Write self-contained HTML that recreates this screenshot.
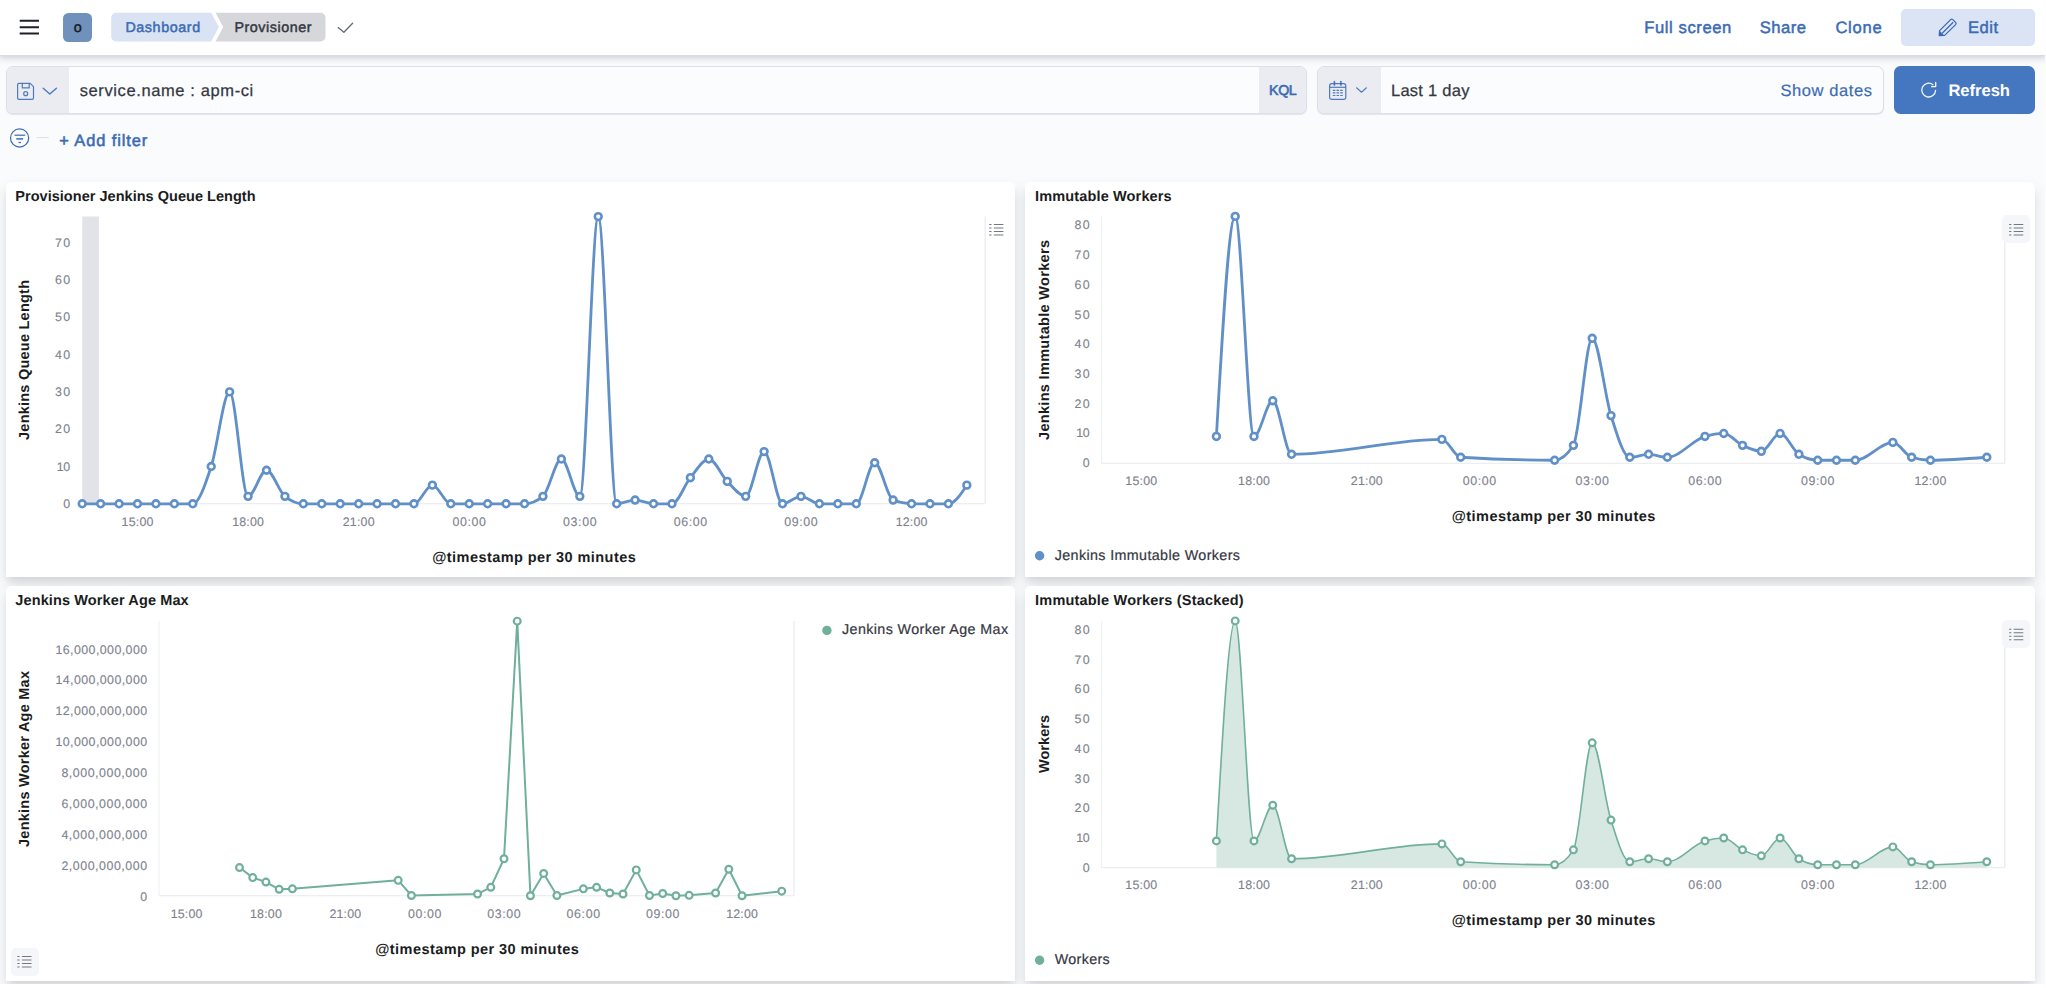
<!DOCTYPE html>
<html lang="en">
<head>
<meta charset="utf-8">
<title>Provisioner - Dashboard</title>
<style>
*{box-sizing:border-box;margin:0;padding:0}
html,body{width:2046px;height:988px;overflow:hidden}
body{position:relative;background:#fafbfd;font-family:"Liberation Sans", "DejaVu Sans", sans-serif;color:#343741;-webkit-font-smoothing:antialiased}
.abs,.t,.chart{position:absolute}
.t{white-space:nowrap;display:block;text-rendering:geometricPrecision}
svg{overflow:visible;display:block}
svg text{font-family:"Liberation Sans", "DejaVu Sans", sans-serif;text-rendering:geometricPrecision}
.tick text{stroke:#7c808c;stroke-width:.12px}
header{position:absolute;left:0;top:0;width:2046px;height:54.5px;background:#fff;box-shadow:0 1px 0 #d8dbe2,0 2px 7px 1px rgba(96,106,128,.30);z-index:5}
.avatar{left:63.2px;top:12.8px;width:28.6px;height:28.8px;border-radius:5.5px;background:#7091bb}
.crumb{top:12.8px;height:28.6px}
.edit{left:1901px;top:8.6px;width:134.4px;height:37.5px;border-radius:5px;background:#dbe4f4}
.bar{top:66px;height:47.6px;border:1px solid #dadfe9;border-radius:7px;background:#fbfcfd;box-shadow:0 1px 1px rgba(150,160,190,.25);overflow:hidden}
.seg{position:absolute;top:0;bottom:0;background:#eaecf2}
.refresh{left:1893.8px;top:65.8px;width:141.6px;height:48px;border-radius:6.5px;background:#4577c1}
.panel{position:absolute;background:#fff;border-radius:5.5px 5.5px 0 0;box-shadow:0 7px 14px -1.2px rgba(82,86,94,.215),0 4.7px 4.7px -1.2px rgba(82,86,94,.05)}
.lgbtn{width:28px;height:28px;border-radius:5px;background:#f4f6fa}
.dot{width:9.4px;height:9.4px;border-radius:50%;margin:.1px}
.edgeR{left:2044.7px;top:0;width:1.3px;height:988px;background:#fdfdfe;z-index:9}
.edgeB{left:0;top:983.7px;width:2046px;height:4.3px;background:#fff;z-index:8}
</style>
</head>
<body>

<header>
<svg class="abs" style="left:19px;top:19px" width="22" height="17" viewBox="0 0 22 17"><g stroke="#1f2128" stroke-width="2.1"><path d="M0.7,1.8H20M0.7,8.3H20M0.7,14.5H20"/></g></svg>
<div class="abs avatar"></div>
<span id="t1" class="t " style="left:73.8px;top:18.01px;font-size:14.4px;line-height:20px;font-weight:400;color:#1a1c21;-webkit-text-stroke:0.45px #1a1c21;">o</span>
<nav aria-label="breadcrumb">
<svg class="abs" style="left:111px;top:12px" width="216" height="31" viewBox="111 12 216 31"><path d="M116.2,12.8H211.2L218.8,27.1L211.2,41.4H116.2a5,5 0 0 1 -5,-5V17.8a5,5 0 0 1 5,-5Z" fill="#d9e3f3"/><path d="M215.6,12.8H320.5a5,5 0 0 1 5,5V36.4a5,5 0 0 1 -5,5H215.6L223.2,27.1Z" fill="#d6d7da"/></svg>
<span id="t2" class="t " style="left:125.4px;top:18.41px;font-size:14.3px;line-height:20px;font-weight:400;color:#3b6bb4;letter-spacing:0.6px;-webkit-text-stroke:0.5px #3b6bb4;">Dashboard</span>
<span id="t3" class="t " style="left:234.4px;top:18.41px;font-size:14.3px;line-height:20px;font-weight:400;color:#343741;letter-spacing:0.55px;-webkit-text-stroke:0.45px #343741;">Provisioner</span>
</nav>
<svg class="abs" style="left:336px;top:20px" width="19" height="15" viewBox="336 20 19 15"><path d="M338.2,27.6L343.9,32.2L352.6,23.2" fill="none" stroke="#646a77" stroke-width="1.3" stroke-linecap="round" stroke-linejoin="round"/></svg>
<span id="t4" class="t " style="left:1644.3px;top:15.91px;font-size:16.6px;line-height:23px;font-weight:400;color:#3b6bb4;letter-spacing:0.59px;-webkit-text-stroke:0.48px #3b6bb4;">Full screen</span>
<span id="t5" class="t " style="left:1759.8px;top:15.91px;font-size:16.6px;line-height:23px;font-weight:400;color:#3b6bb4;letter-spacing:0.46px;-webkit-text-stroke:0.48px #3b6bb4;">Share</span>
<span id="t6" class="t " style="left:1835.4px;top:15.91px;font-size:16.6px;line-height:23px;font-weight:400;color:#3b6bb4;letter-spacing:0.73px;-webkit-text-stroke:0.48px #3b6bb4;">Clone</span>
<div class="abs edit"></div>
<svg class="abs" style="left:1937px;top:17px" width="21" height="21" viewBox="1937 17 21 21"><g fill="none" stroke="#3b6bb4" stroke-width="1.25" stroke-linejoin="round"><path d="M1939.2,35.6L1939.6,30.6L1950.6,19.6a1.6,1.6 0 0 1 2.2,0L1955.6,22.4a1.6,1.6 0 0 1 0,2.2L1944.6,35.4Z"/><path d="M1942.2,33.2L1953.2,22.2"/></g><path d="M1939.1,35.9L1939.5,30.7L1944.4,35.5Z" fill="#3b6bb4"/></svg>
<span id="t7" class="t " style="left:1968px;top:16px;font-size:16.6px;line-height:23px;font-weight:400;color:#3b6bb4;letter-spacing:0.5px;-webkit-text-stroke:0.48px #3b6bb4;">Edit</span>
</header>
<div class="abs bar" style="left:5.8px;width:1301.6px">
<div class="seg" style="left:0;width:62.4px"></div>
<div class="seg" style="left:1251.8px;right:0"></div>
</div>
<svg class="abs" style="left:16px;top:81px" width="44" height="21" viewBox="16 81 44 21"><g fill="none" stroke="#3b6bb4" stroke-opacity=".88" stroke-width="1.2" stroke-linejoin="round"><path d="M19,83.4H30.2L33.5,86.7V98a1.4,1.4 0 0 1 -1.4,1.4H19a1.4,1.4 0 0 1 -1.4,-1.4V84.8a1.4,1.4 0 0 1 1.4,-1.4Z"/><path d="M22.3,83.6V87.9H29.2V83.6"/><circle cx="25.7" cy="93.7" r="2"/><path d="M43.2,88.2L49.8,94L56.4,88.2" stroke-width="1.45" stroke-linecap="round"/></g></svg>
<span id="t8" class="t " style="left:79.7px;top:79.8px;font-size:16.5px;line-height:23px;font-weight:400;color:#343741;letter-spacing:0.61px;-webkit-text-stroke:0.25px #343741;">service.name : apm-ci</span>
<span id="t9" class="t " style="left:1269.1px;top:81px;font-size:14.2px;line-height:20px;font-weight:400;color:#3b6bb4;letter-spacing:-0.4px;-webkit-text-stroke:0.6px #3b6bb4;">KQL</span>
<div class="abs bar" style="left:1317px;width:567.2px"><div class="seg" style="left:0;width:62.6px"></div></div>
<svg class="abs" style="left:1327px;top:80px" width="42" height="22" viewBox="1327 80 42 22"><g fill="none" stroke="#3b6bb4" stroke-opacity=".88" stroke-width="1.2"><rect x="1329.6" y="83.7" width="16.2" height="15.7" rx="2.2"/><path d="M1329.6,87.3H1345.8"/><path d="M1334.4,81.6V85M1340.9,81.6V85" stroke-width="1.7" stroke-linecap="round"/><path d="M1332.8,90.4H1335.4M1336.5,90.4H1339.1M1340.2,90.4H1342.8M1332.8,92.9H1335.4M1336.5,92.9H1339.1M1340.2,92.9H1342.8M1332.8,95.5H1335.4M1336.5,95.5H1339.1M1340.2,95.5H1342.8" stroke-width="1.15"/><path d="M1356.6,87.8L1361.5,92.2L1366.4,87.8" stroke-width="1.15" stroke-linecap="round" stroke-linejoin="round"/></g></svg>
<span id="t10" class="t " style="left:1391px;top:80.02px;font-size:16.5px;line-height:23px;font-weight:400;color:#343741;letter-spacing:0.25px;-webkit-text-stroke:0.25px #343741;">Last 1 day</span>
<span id="t11" class="t " style="left:1780.5px;top:80.02px;font-size:16.5px;line-height:23px;font-weight:400;color:#3b6bb4;letter-spacing:0.58px;-webkit-text-stroke:0.2px #3b6bb4;">Show dates</span>
<div class="abs refresh"></div>
<svg class="abs" style="left:1919px;top:80px" width="20" height="20" viewBox="1919 80 20 20"><g fill="none" stroke="#fff" stroke-opacity=".95" stroke-width="1.3" stroke-linecap="round" stroke-linejoin="round"><path d="M1935.6,90.3a6.9,6.9 0 1 1 -2.6,-5.6"/><path d="M1935.7,82.4V86.6H1931.5"/></g></svg>
<span id="t12" class="t " style="left:1948.4px;top:78.91px;font-size:16.6px;line-height:23px;font-weight:700;color:#fff;letter-spacing:-0.03px;">Refresh</span>
<svg class="abs" style="left:9px;top:127px" width="42" height="22" viewBox="9 127 42 22"><g fill="none" stroke="#3b6bb4"><circle cx="19.6" cy="138" r="9.1" stroke-width="1.2"/><path d="M14.5,135.2H25.2" stroke-width="1.2"/><path d="M16.3,138.9H23.1" stroke-width="1.5"/><path d="M18.5,142.5H21" stroke-width="1.2"/></g><path d="M36.5,137.6H48.8" stroke="#dfe2e9" stroke-width="1.1"/></svg>
<span id="t13" class="t " style="left:59.3px;top:130.4px;font-size:16.4px;line-height:23px;font-weight:400;color:#3b6bb4;letter-spacing:0.91px;-webkit-text-stroke:0.55px #3b6bb4;">+ Add filter</span>
<section class="panel" style="left:5.5px;top:181.8px;width:1009.6px;height:395px"></section>
<section class="panel" style="left:1025.3px;top:181.8px;width:1009.9px;height:395px"></section>
<section class="panel" style="left:5.5px;top:586.3px;width:1009.6px;height:394.7px"></section>
<section class="panel" style="left:1025.3px;top:586.3px;width:1009.9px;height:394.7px"></section>
<h2 id="t14" class="t " style="left:15.3px;top:186.7px;font-size:14.5px;line-height:20px;font-weight:700;color:#1a1c21;letter-spacing:0.03px;">Provisioner Jenkins Queue Length</h2>
<h2 id="t15" class="t " style="left:1035.1px;top:186.7px;font-size:14.5px;line-height:20px;font-weight:700;color:#1a1c21;letter-spacing:0.14px;">Immutable Workers</h2>
<h2 id="t16" class="t " style="left:15.3px;top:591.2px;font-size:14.5px;line-height:20px;font-weight:700;color:#1a1c21;letter-spacing:0.12px;">Jenkins Worker Age Max</h2>
<h2 id="t17" class="t " style="left:1035.1px;top:591.2px;font-size:14.5px;line-height:20px;font-weight:700;color:#1a1c21;letter-spacing:0.19px;">Immutable Workers (Stacked)</h2>
<svg class="chart" style="left:5px;top:181px" width="1011" height="397" viewBox="5 181 1011 397">
<rect x="82.2" y="216.5" width="16.7" height="287.3" fill="#e1e3e8"/>
<g stroke="#e7e9ee" stroke-width="1.1" fill="none">
<path d="M82.2,503.8H985.2"/>
<path d="M985.2,216.5V503.8"/>
</g>
<g class="tick">
<text x="70.1" y="507.8" font-size="12.4" font-weight="400" fill="#7e828e" text-anchor="end" textLength="7.55" lengthAdjust="spacing">0</text>
<text x="70.1" y="470.5" font-size="12.4" font-weight="400" fill="#7e828e" text-anchor="end" textLength="13.45" lengthAdjust="spacing">10</text>
<text x="70.1" y="433.2" font-size="12.4" font-weight="400" fill="#7e828e" text-anchor="end" textLength="15.1" lengthAdjust="spacing">20</text>
<text x="70.1" y="395.9" font-size="12.4" font-weight="400" fill="#7e828e" text-anchor="end" textLength="15.1" lengthAdjust="spacing">30</text>
<text x="70.1" y="358.6" font-size="12.4" font-weight="400" fill="#7e828e" text-anchor="end" textLength="15.1" lengthAdjust="spacing">40</text>
<text x="70.1" y="321.3" font-size="12.4" font-weight="400" fill="#7e828e" text-anchor="end" textLength="15.1" lengthAdjust="spacing">50</text>
<text x="70.1" y="284" font-size="12.4" font-weight="400" fill="#7e828e" text-anchor="end" textLength="15.1" lengthAdjust="spacing">60</text>
<text x="70.1" y="246.7" font-size="12.4" font-weight="400" fill="#7e828e" text-anchor="end" textLength="15.1" lengthAdjust="spacing">70</text>
<text x="137.49" y="525.95" font-size="12.4" font-weight="400" fill="#7e828e" text-anchor="middle" textLength="31.85" lengthAdjust="spacing">15:00</text>
<text x="248.07" y="525.95" font-size="12.4" font-weight="400" fill="#7e828e" text-anchor="middle" textLength="31.85" lengthAdjust="spacing">18:00</text>
<text x="358.65" y="525.95" font-size="12.4" font-weight="400" fill="#7e828e" text-anchor="middle" textLength="31.85" lengthAdjust="spacing">21:00</text>
<text x="469.23" y="525.95" font-size="12.4" font-weight="400" fill="#7e828e" text-anchor="middle" textLength="33.5" lengthAdjust="spacing">00:00</text>
<text x="579.81" y="525.95" font-size="12.4" font-weight="400" fill="#7e828e" text-anchor="middle" textLength="33.5" lengthAdjust="spacing">03:00</text>
<text x="690.39" y="525.95" font-size="12.4" font-weight="400" fill="#7e828e" text-anchor="middle" textLength="33.5" lengthAdjust="spacing">06:00</text>
<text x="800.97" y="525.95" font-size="12.4" font-weight="400" fill="#7e828e" text-anchor="middle" textLength="33.5" lengthAdjust="spacing">09:00</text>
<text x="911.55" y="525.95" font-size="12.4" font-weight="400" fill="#7e828e" text-anchor="middle" textLength="31.85" lengthAdjust="spacing">12:00</text>
</g>
<text x="534" y="561.7" font-size="14.5" font-weight="700" fill="#1a1c21" text-anchor="middle" textLength="203.5" lengthAdjust="spacing">@timestamp per 30 minutes</text>
<text x="29.2" y="360" font-size="14.5" font-weight="700" fill="#1a1c21" text-anchor="middle" textLength="160" lengthAdjust="spacing" transform="rotate(-90 29.2 360)">Jenkins Queue Length</text>
<path d="M82.2,503.8C88.34,503.8,94.49,503.8,100.63,503.8C106.77,503.8,112.92,503.8,119.06,503.8C125.2,503.8,131.35,503.8,137.49,503.8C143.63,503.8,149.78,503.8,155.92,503.8C162.06,503.8,168.21,503.8,174.35,503.8C180.49,503.8,186.64,503.8,192.78,503.8C198.92,503.8,205.07,485.15,211.21,466.5C217.35,447.85,223.5,391.9,229.64,391.9C235.78,391.9,241.93,496.34,248.07,496.34C254.21,496.34,260.36,470.23,266.5,470.23C272.64,470.23,278.79,491.37,284.93,496.34C291.07,501.31,297.22,503.8,303.36,503.8C309.5,503.8,315.65,503.8,321.79,503.8C327.93,503.8,334.08,503.8,340.22,503.8C346.36,503.8,352.51,503.8,358.65,503.8C364.79,503.8,370.94,503.8,377.08,503.8C383.22,503.8,389.37,503.8,395.51,503.8C401.65,503.8,407.8,503.8,413.94,503.8C420.08,503.8,426.23,485.15,432.37,485.15C438.51,485.15,444.66,503.8,450.8,503.8C456.94,503.8,463.09,503.8,469.23,503.8C475.37,503.8,481.52,503.8,487.66,503.8C493.8,503.8,499.95,503.8,506.09,503.8C512.23,503.8,518.38,503.8,524.52,503.8C530.66,503.8,536.81,501.31,542.95,496.34C549.09,491.37,555.24,459.04,561.38,459.04C567.52,459.04,573.67,496.34,579.81,496.34C585.95,496.34,592.1,216.59,598.24,216.59C604.38,216.59,610.53,503.8,616.67,503.8C622.81,503.8,628.96,500.07,635.1,500.07C641.24,500.07,647.39,503.8,653.53,503.8C659.67,503.8,665.82,503.8,671.96,503.8C678.1,503.8,684.25,485.15,690.39,477.69C696.53,470.23,702.68,459.04,708.82,459.04C714.96,459.04,721.11,475.2,727.25,481.42C733.39,487.64,739.54,496.34,745.68,496.34C751.82,496.34,757.97,451.58,764.11,451.58C770.25,451.58,776.4,503.8,782.54,503.8C788.68,503.8,794.83,496.34,800.97,496.34C807.11,496.34,813.26,503.8,819.4,503.8C825.54,503.8,831.69,503.8,837.83,503.8C843.97,503.8,850.12,503.8,856.26,503.8C862.4,503.8,868.55,462.77,874.69,462.77C880.83,462.77,886.98,497.58,893.12,500.07C899.26,502.56,905.41,503.8,911.55,503.8C917.69,503.8,923.84,503.8,929.98,503.8C936.12,503.8,942.27,503.8,948.41,503.8C954.55,503.8,960.7,494.48,966.84,485.15" fill="none" stroke="#6090c7" stroke-width="2.8" stroke-linejoin="round" stroke-linecap="round"/>
<g fill="#fff" stroke="#6090c7" stroke-width="2.6"><circle cx="82.2" cy="503.8" r="3.4"/><circle cx="100.63" cy="503.8" r="3.4"/><circle cx="119.06" cy="503.8" r="3.4"/><circle cx="137.49" cy="503.8" r="3.4"/><circle cx="155.92" cy="503.8" r="3.4"/><circle cx="174.35" cy="503.8" r="3.4"/><circle cx="192.78" cy="503.8" r="3.4"/><circle cx="211.21" cy="466.5" r="3.4"/><circle cx="229.64" cy="391.9" r="3.4"/><circle cx="248.07" cy="496.34" r="3.4"/><circle cx="266.5" cy="470.23" r="3.4"/><circle cx="284.93" cy="496.34" r="3.4"/><circle cx="303.36" cy="503.8" r="3.4"/><circle cx="321.79" cy="503.8" r="3.4"/><circle cx="340.22" cy="503.8" r="3.4"/><circle cx="358.65" cy="503.8" r="3.4"/><circle cx="377.08" cy="503.8" r="3.4"/><circle cx="395.51" cy="503.8" r="3.4"/><circle cx="413.94" cy="503.8" r="3.4"/><circle cx="432.37" cy="485.15" r="3.4"/><circle cx="450.8" cy="503.8" r="3.4"/><circle cx="469.23" cy="503.8" r="3.4"/><circle cx="487.66" cy="503.8" r="3.4"/><circle cx="506.09" cy="503.8" r="3.4"/><circle cx="524.52" cy="503.8" r="3.4"/><circle cx="542.95" cy="496.34" r="3.4"/><circle cx="561.38" cy="459.04" r="3.4"/><circle cx="579.81" cy="496.34" r="3.4"/><circle cx="598.24" cy="216.59" r="3.4"/><circle cx="616.67" cy="503.8" r="3.4"/><circle cx="635.1" cy="500.07" r="3.4"/><circle cx="653.53" cy="503.8" r="3.4"/><circle cx="671.96" cy="503.8" r="3.4"/><circle cx="690.39" cy="477.69" r="3.4"/><circle cx="708.82" cy="459.04" r="3.4"/><circle cx="727.25" cy="481.42" r="3.4"/><circle cx="745.68" cy="496.34" r="3.4"/><circle cx="764.11" cy="451.58" r="3.4"/><circle cx="782.54" cy="503.8" r="3.4"/><circle cx="800.97" cy="496.34" r="3.4"/><circle cx="819.4" cy="503.8" r="3.4"/><circle cx="837.83" cy="503.8" r="3.4"/><circle cx="856.26" cy="503.8" r="3.4"/><circle cx="874.69" cy="462.77" r="3.4"/><circle cx="893.12" cy="500.07" r="3.4"/><circle cx="911.55" cy="503.8" r="3.4"/><circle cx="929.98" cy="503.8" r="3.4"/><circle cx="948.41" cy="503.8" r="3.4"/><circle cx="966.84" cy="485.15" r="3.4"/></g>
</svg>
<svg class="chart" style="left:1025px;top:181px" width="1011" height="397" viewBox="1025 181 1011 397">
<g stroke="#e7e9ee" stroke-width="1.1" fill="none">
<path d="M1101.5,216.4V463.2" stroke="#eef0f4"/>
<path d="M1101.5,463.2H2004.8"/>
<path d="M2004.8,216.4V463.2"/>
</g>
<g class="tick">
<text x="1089.6" y="467.2" font-size="12.4" font-weight="400" fill="#7e828e" text-anchor="end" textLength="7.55" lengthAdjust="spacing">0</text>
<text x="1089.6" y="437.46" font-size="12.4" font-weight="400" fill="#7e828e" text-anchor="end" textLength="13.45" lengthAdjust="spacing">10</text>
<text x="1089.6" y="407.73" font-size="12.4" font-weight="400" fill="#7e828e" text-anchor="end" textLength="15.1" lengthAdjust="spacing">20</text>
<text x="1089.6" y="378" font-size="12.4" font-weight="400" fill="#7e828e" text-anchor="end" textLength="15.1" lengthAdjust="spacing">30</text>
<text x="1089.6" y="348.26" font-size="12.4" font-weight="400" fill="#7e828e" text-anchor="end" textLength="15.1" lengthAdjust="spacing">40</text>
<text x="1089.6" y="318.52" font-size="12.4" font-weight="400" fill="#7e828e" text-anchor="end" textLength="15.1" lengthAdjust="spacing">50</text>
<text x="1089.6" y="288.79" font-size="12.4" font-weight="400" fill="#7e828e" text-anchor="end" textLength="15.1" lengthAdjust="spacing">60</text>
<text x="1089.6" y="259.05" font-size="12.4" font-weight="400" fill="#7e828e" text-anchor="end" textLength="15.1" lengthAdjust="spacing">70</text>
<text x="1089.6" y="229.32" font-size="12.4" font-weight="400" fill="#7e828e" text-anchor="end" textLength="15.1" lengthAdjust="spacing">80</text>
<text x="1141.25" y="484.85" font-size="12.4" font-weight="400" fill="#7e828e" text-anchor="middle" textLength="31.85" lengthAdjust="spacing">15:00</text>
<text x="1253.99" y="484.85" font-size="12.4" font-weight="400" fill="#7e828e" text-anchor="middle" textLength="31.85" lengthAdjust="spacing">18:00</text>
<text x="1366.73" y="484.85" font-size="12.4" font-weight="400" fill="#7e828e" text-anchor="middle" textLength="31.85" lengthAdjust="spacing">21:00</text>
<text x="1479.47" y="484.85" font-size="12.4" font-weight="400" fill="#7e828e" text-anchor="middle" textLength="33.5" lengthAdjust="spacing">00:00</text>
<text x="1592.21" y="484.85" font-size="12.4" font-weight="400" fill="#7e828e" text-anchor="middle" textLength="33.5" lengthAdjust="spacing">03:00</text>
<text x="1704.95" y="484.85" font-size="12.4" font-weight="400" fill="#7e828e" text-anchor="middle" textLength="33.5" lengthAdjust="spacing">06:00</text>
<text x="1817.69" y="484.85" font-size="12.4" font-weight="400" fill="#7e828e" text-anchor="middle" textLength="33.5" lengthAdjust="spacing">09:00</text>
<text x="1930.43" y="484.85" font-size="12.4" font-weight="400" fill="#7e828e" text-anchor="middle" textLength="31.85" lengthAdjust="spacing">12:00</text>
</g>
<text x="1553.5" y="521.1" font-size="14.5" font-weight="700" fill="#1a1c21" text-anchor="middle" textLength="203.5" lengthAdjust="spacing">@timestamp per 30 minutes</text>
<text x="1049.2" y="340" font-size="14.5" font-weight="700" fill="#1a1c21" text-anchor="middle" textLength="200" lengthAdjust="spacing" transform="rotate(-90 1049.2 340)">Jenkins Immutable Workers</text>
<path d="M1216.41,436.44C1222.67,326.42,1228.94,216.4,1235.2,216.4C1241.46,216.4,1247.73,436.44,1253.99,436.44C1260.25,436.44,1266.52,400.76,1272.78,400.76C1279.04,400.76,1285.31,454.28,1291.57,454.28C1341.68,454.28,1391.78,439.41,1441.89,439.41C1448.15,439.41,1454.42,456.86,1460.68,457.25C1492,459.24,1523.31,460.23,1554.63,460.23C1560.89,460.23,1567.16,455.27,1573.42,445.36C1579.68,435.45,1585.95,338.31,1592.21,338.31C1598.47,338.31,1604.74,395.8,1611,415.62C1617.26,435.45,1623.53,457.25,1629.79,457.25C1636.05,457.25,1642.32,454.28,1648.58,454.28C1654.84,454.28,1661.11,457.25,1667.37,457.25C1679.9,457.25,1692.42,440.07,1704.95,436.44C1711.21,434.62,1717.48,433.46,1723.74,433.46C1730,433.46,1736.27,442.39,1742.53,445.36C1748.79,448.33,1755.06,451.31,1761.32,451.31C1767.58,451.31,1773.85,433.46,1780.11,433.46C1786.37,433.46,1792.64,450.31,1798.9,454.28C1805.16,458.24,1811.43,460.23,1817.69,460.23C1823.95,460.23,1830.22,460.23,1836.48,460.23C1842.74,460.23,1849.01,460.23,1855.27,460.23C1867.8,460.23,1880.32,442.39,1892.85,442.39C1899.11,442.39,1905.38,455.27,1911.64,457.25C1917.9,459.24,1924.17,460.23,1930.43,460.23C1949.22,460.23,1968.01,458.74,1986.8,457.25" fill="none" stroke="#6090c7" stroke-width="2.8" stroke-linejoin="round" stroke-linecap="round"/>
<g fill="#fff" stroke="#6090c7" stroke-width="2.6"><circle cx="1216.41" cy="436.44" r="3.4"/><circle cx="1235.2" cy="216.4" r="3.4"/><circle cx="1253.99" cy="436.44" r="3.4"/><circle cx="1272.78" cy="400.76" r="3.4"/><circle cx="1291.57" cy="454.28" r="3.4"/><circle cx="1441.89" cy="439.41" r="3.4"/><circle cx="1460.68" cy="457.25" r="3.4"/><circle cx="1554.63" cy="460.23" r="3.4"/><circle cx="1573.42" cy="445.36" r="3.4"/><circle cx="1592.21" cy="338.31" r="3.4"/><circle cx="1611" cy="415.62" r="3.4"/><circle cx="1629.79" cy="457.25" r="3.4"/><circle cx="1648.58" cy="454.28" r="3.4"/><circle cx="1667.37" cy="457.25" r="3.4"/><circle cx="1704.95" cy="436.44" r="3.4"/><circle cx="1723.74" cy="433.46" r="3.4"/><circle cx="1742.53" cy="445.36" r="3.4"/><circle cx="1761.32" cy="451.31" r="3.4"/><circle cx="1780.11" cy="433.46" r="3.4"/><circle cx="1798.9" cy="454.28" r="3.4"/><circle cx="1817.69" cy="460.23" r="3.4"/><circle cx="1836.48" cy="460.23" r="3.4"/><circle cx="1855.27" cy="460.23" r="3.4"/><circle cx="1892.85" cy="442.39" r="3.4"/><circle cx="1911.64" cy="457.25" r="3.4"/><circle cx="1930.43" cy="460.23" r="3.4"/><circle cx="1986.8" cy="457.25" r="3.4"/></g>
</svg>
<svg class="chart" style="left:5px;top:586px" width="1011" height="396" viewBox="5 586 1011 396">
<g stroke="#e7e9ee" stroke-width="1.1" fill="none">
<path d="M159,621.1V895.8" stroke="#eef0f4"/>
<path d="M159,895.8H794"/>
<path d="M794,621.1V895.8"/>
</g>
<g class="tick">
<text x="147.1" y="900.5" font-size="12.4" font-weight="400" fill="#7e828e" text-anchor="end" textLength="7.55" lengthAdjust="spacing">0</text>
<text x="147.1" y="869.64" font-size="12.4" font-weight="400" fill="#7e828e" text-anchor="end" textLength="85.7" lengthAdjust="spacing">2,000,000,000</text>
<text x="147.1" y="838.78" font-size="12.4" font-weight="400" fill="#7e828e" text-anchor="end" textLength="85.7" lengthAdjust="spacing">4,000,000,000</text>
<text x="147.1" y="807.92" font-size="12.4" font-weight="400" fill="#7e828e" text-anchor="end" textLength="85.7" lengthAdjust="spacing">6,000,000,000</text>
<text x="147.1" y="777.06" font-size="12.4" font-weight="400" fill="#7e828e" text-anchor="end" textLength="85.7" lengthAdjust="spacing">8,000,000,000</text>
<text x="147.1" y="746.2" font-size="12.4" font-weight="400" fill="#7e828e" text-anchor="end" textLength="91.6" lengthAdjust="spacing">10,000,000,000</text>
<text x="147.1" y="715.34" font-size="12.4" font-weight="400" fill="#7e828e" text-anchor="end" textLength="91.6" lengthAdjust="spacing">12,000,000,000</text>
<text x="147.1" y="684.48" font-size="12.4" font-weight="400" fill="#7e828e" text-anchor="end" textLength="91.6" lengthAdjust="spacing">14,000,000,000</text>
<text x="147.1" y="653.62" font-size="12.4" font-weight="400" fill="#7e828e" text-anchor="end" textLength="91.6" lengthAdjust="spacing">16,000,000,000</text>
<text x="186.6" y="918.35" font-size="12.4" font-weight="400" fill="#7e828e" text-anchor="middle" textLength="31.85" lengthAdjust="spacing">15:00</text>
<text x="265.95" y="918.35" font-size="12.4" font-weight="400" fill="#7e828e" text-anchor="middle" textLength="31.85" lengthAdjust="spacing">18:00</text>
<text x="345.3" y="918.35" font-size="12.4" font-weight="400" fill="#7e828e" text-anchor="middle" textLength="31.85" lengthAdjust="spacing">21:00</text>
<text x="424.65" y="918.35" font-size="12.4" font-weight="400" fill="#7e828e" text-anchor="middle" textLength="33.5" lengthAdjust="spacing">00:00</text>
<text x="504" y="918.35" font-size="12.4" font-weight="400" fill="#7e828e" text-anchor="middle" textLength="33.5" lengthAdjust="spacing">03:00</text>
<text x="583.35" y="918.35" font-size="12.4" font-weight="400" fill="#7e828e" text-anchor="middle" textLength="33.5" lengthAdjust="spacing">06:00</text>
<text x="662.7" y="918.35" font-size="12.4" font-weight="400" fill="#7e828e" text-anchor="middle" textLength="33.5" lengthAdjust="spacing">09:00</text>
<text x="742.05" y="918.35" font-size="12.4" font-weight="400" fill="#7e828e" text-anchor="middle" textLength="31.85" lengthAdjust="spacing">12:00</text>
</g>
<text x="477" y="954.1" font-size="14.5" font-weight="700" fill="#1a1c21" text-anchor="middle" textLength="203.5" lengthAdjust="spacing">@timestamp per 30 minutes</text>
<text x="29.2" y="759" font-size="14.5" font-weight="700" fill="#1a1c21" text-anchor="middle" textLength="176" lengthAdjust="spacing" transform="rotate(-90 29.2 759)">Jenkins Worker Age Max</text>
<path d="M239.5,867.56L252.73,877.59L265.95,882.07L279.18,889.32L292.4,888.86L398.2,880.37L411.43,895.49L477.55,893.95L490.77,887.31L504,858.77L517.23,621.15L530.45,895.8L543.67,873.43L556.9,895.49L583.35,888.86L596.58,887.31L609.8,893.02L623.02,893.95L636.25,869.88L649.48,895.49L662.7,893.49L675.92,895.8L689.15,895.34L715.6,893.02L728.83,869.26L742.05,895.8L781.72,891.17" fill="none" stroke="#70b09a" stroke-width="2" stroke-linejoin="round"/>
<g fill="#fff" stroke="#70b09a" stroke-width="2.2"><circle cx="239.5" cy="867.56" r="3.4"/><circle cx="252.73" cy="877.59" r="3.4"/><circle cx="265.95" cy="882.07" r="3.4"/><circle cx="279.18" cy="889.32" r="3.4"/><circle cx="292.4" cy="888.86" r="3.4"/><circle cx="398.2" cy="880.37" r="3.4"/><circle cx="411.43" cy="895.49" r="3.4"/><circle cx="477.55" cy="893.95" r="3.4"/><circle cx="490.77" cy="887.31" r="3.4"/><circle cx="504" cy="858.77" r="3.4"/><circle cx="517.23" cy="621.15" r="3.4"/><circle cx="530.45" cy="895.8" r="3.4"/><circle cx="543.67" cy="873.43" r="3.4"/><circle cx="556.9" cy="895.49" r="3.4"/><circle cx="583.35" cy="888.86" r="3.4"/><circle cx="596.58" cy="887.31" r="3.4"/><circle cx="609.8" cy="893.02" r="3.4"/><circle cx="623.02" cy="893.95" r="3.4"/><circle cx="636.25" cy="869.88" r="3.4"/><circle cx="649.48" cy="895.49" r="3.4"/><circle cx="662.7" cy="893.49" r="3.4"/><circle cx="675.92" cy="895.8" r="3.4"/><circle cx="689.15" cy="895.34" r="3.4"/><circle cx="715.6" cy="893.02" r="3.4"/><circle cx="728.83" cy="869.26" r="3.4"/><circle cx="742.05" cy="895.8" r="3.4"/><circle cx="781.72" cy="891.17" r="3.4"/></g>
</svg>
<svg class="chart" style="left:1025px;top:586px" width="1011" height="396" viewBox="1025 586 1011 396">
<g stroke="#e7e9ee" stroke-width="1.1" fill="none">
<path d="M1101.5,621.1V867.7" stroke="#eef0f4"/>
<path d="M1101.5,867.7H2004.8"/>
<path d="M2004.8,621.1V867.7"/>
</g>
<g class="tick">
<text x="1089.6" y="871.7" font-size="12.4" font-weight="400" fill="#7e828e" text-anchor="end" textLength="7.55" lengthAdjust="spacing">0</text>
<text x="1089.6" y="841.97" font-size="12.4" font-weight="400" fill="#7e828e" text-anchor="end" textLength="13.45" lengthAdjust="spacing">10</text>
<text x="1089.6" y="812.23" font-size="12.4" font-weight="400" fill="#7e828e" text-anchor="end" textLength="15.1" lengthAdjust="spacing">20</text>
<text x="1089.6" y="782.5" font-size="12.4" font-weight="400" fill="#7e828e" text-anchor="end" textLength="15.1" lengthAdjust="spacing">30</text>
<text x="1089.6" y="752.76" font-size="12.4" font-weight="400" fill="#7e828e" text-anchor="end" textLength="15.1" lengthAdjust="spacing">40</text>
<text x="1089.6" y="723.03" font-size="12.4" font-weight="400" fill="#7e828e" text-anchor="end" textLength="15.1" lengthAdjust="spacing">50</text>
<text x="1089.6" y="693.29" font-size="12.4" font-weight="400" fill="#7e828e" text-anchor="end" textLength="15.1" lengthAdjust="spacing">60</text>
<text x="1089.6" y="663.56" font-size="12.4" font-weight="400" fill="#7e828e" text-anchor="end" textLength="15.1" lengthAdjust="spacing">70</text>
<text x="1089.6" y="633.82" font-size="12.4" font-weight="400" fill="#7e828e" text-anchor="end" textLength="15.1" lengthAdjust="spacing">80</text>
<text x="1141.25" y="889.25" font-size="12.4" font-weight="400" fill="#7e828e" text-anchor="middle" textLength="31.85" lengthAdjust="spacing">15:00</text>
<text x="1253.99" y="889.25" font-size="12.4" font-weight="400" fill="#7e828e" text-anchor="middle" textLength="31.85" lengthAdjust="spacing">18:00</text>
<text x="1366.73" y="889.25" font-size="12.4" font-weight="400" fill="#7e828e" text-anchor="middle" textLength="31.85" lengthAdjust="spacing">21:00</text>
<text x="1479.47" y="889.25" font-size="12.4" font-weight="400" fill="#7e828e" text-anchor="middle" textLength="33.5" lengthAdjust="spacing">00:00</text>
<text x="1592.21" y="889.25" font-size="12.4" font-weight="400" fill="#7e828e" text-anchor="middle" textLength="33.5" lengthAdjust="spacing">03:00</text>
<text x="1704.95" y="889.25" font-size="12.4" font-weight="400" fill="#7e828e" text-anchor="middle" textLength="33.5" lengthAdjust="spacing">06:00</text>
<text x="1817.69" y="889.25" font-size="12.4" font-weight="400" fill="#7e828e" text-anchor="middle" textLength="33.5" lengthAdjust="spacing">09:00</text>
<text x="1930.43" y="889.25" font-size="12.4" font-weight="400" fill="#7e828e" text-anchor="middle" textLength="31.85" lengthAdjust="spacing">12:00</text>
</g>
<text x="1553.5" y="925.2" font-size="14.5" font-weight="700" fill="#1a1c21" text-anchor="middle" textLength="203.5" lengthAdjust="spacing">@timestamp per 30 minutes</text>
<text x="1049.2" y="744" font-size="14.5" font-weight="700" fill="#1a1c21" text-anchor="middle" textLength="58" lengthAdjust="spacing" transform="rotate(-90 1049.2 744)">Workers</text>
<path d="M1216.41,840.94C1222.67,730.92,1228.94,620.9,1235.2,620.9C1241.46,620.9,1247.73,840.94,1253.99,840.94C1260.25,840.94,1266.52,805.26,1272.78,805.26C1279.04,805.26,1285.31,858.78,1291.57,858.78C1341.68,858.78,1391.78,843.91,1441.89,843.91C1448.15,843.91,1454.42,861.36,1460.68,861.75C1492,863.74,1523.31,864.73,1554.63,864.73C1560.89,864.73,1567.16,859.77,1573.42,849.86C1579.68,839.95,1585.95,742.81,1592.21,742.81C1598.47,742.81,1604.74,800.3,1611,820.12C1617.26,839.95,1623.53,861.75,1629.79,861.75C1636.05,861.75,1642.32,858.78,1648.58,858.78C1654.84,858.78,1661.11,861.75,1667.37,861.75C1679.9,861.75,1692.42,844.57,1704.95,840.94C1711.21,839.12,1717.48,837.97,1723.74,837.97C1730,837.97,1736.27,846.89,1742.53,849.86C1748.79,852.83,1755.06,855.81,1761.32,855.81C1767.58,855.81,1773.85,837.97,1780.11,837.97C1786.37,837.97,1792.64,854.81,1798.9,858.78C1805.16,862.74,1811.43,864.73,1817.69,864.73C1823.95,864.73,1830.22,864.73,1836.48,864.73C1842.74,864.73,1849.01,864.73,1855.27,864.73C1867.8,864.73,1880.32,846.89,1892.85,846.89C1899.11,846.89,1905.38,859.77,1911.64,861.75C1917.9,863.74,1924.17,864.73,1930.43,864.73C1949.22,864.73,1968.01,863.24,1986.8,861.75L1986.8,867.7L1216.41,867.7Z" fill="#d6e8e1" stroke="none"/>
<path d="M1216.41,840.94C1222.67,730.92,1228.94,620.9,1235.2,620.9C1241.46,620.9,1247.73,840.94,1253.99,840.94C1260.25,840.94,1266.52,805.26,1272.78,805.26C1279.04,805.26,1285.31,858.78,1291.57,858.78C1341.68,858.78,1391.78,843.91,1441.89,843.91C1448.15,843.91,1454.42,861.36,1460.68,861.75C1492,863.74,1523.31,864.73,1554.63,864.73C1560.89,864.73,1567.16,859.77,1573.42,849.86C1579.68,839.95,1585.95,742.81,1592.21,742.81C1598.47,742.81,1604.74,800.3,1611,820.12C1617.26,839.95,1623.53,861.75,1629.79,861.75C1636.05,861.75,1642.32,858.78,1648.58,858.78C1654.84,858.78,1661.11,861.75,1667.37,861.75C1679.9,861.75,1692.42,844.57,1704.95,840.94C1711.21,839.12,1717.48,837.97,1723.74,837.97C1730,837.97,1736.27,846.89,1742.53,849.86C1748.79,852.83,1755.06,855.81,1761.32,855.81C1767.58,855.81,1773.85,837.97,1780.11,837.97C1786.37,837.97,1792.64,854.81,1798.9,858.78C1805.16,862.74,1811.43,864.73,1817.69,864.73C1823.95,864.73,1830.22,864.73,1836.48,864.73C1842.74,864.73,1849.01,864.73,1855.27,864.73C1867.8,864.73,1880.32,846.89,1892.85,846.89C1899.11,846.89,1905.38,859.77,1911.64,861.75C1917.9,863.74,1924.17,864.73,1930.43,864.73C1949.22,864.73,1968.01,863.24,1986.8,861.75" fill="none" stroke="#70b09a" stroke-width="1.6" stroke-linejoin="round"/>
<g fill="#fff" stroke="#70b09a" stroke-width="2.2"><circle cx="1216.41" cy="840.94" r="3.4"/><circle cx="1235.2" cy="620.9" r="3.4"/><circle cx="1253.99" cy="840.94" r="3.4"/><circle cx="1272.78" cy="805.26" r="3.4"/><circle cx="1291.57" cy="858.78" r="3.4"/><circle cx="1441.89" cy="843.91" r="3.4"/><circle cx="1460.68" cy="861.75" r="3.4"/><circle cx="1554.63" cy="864.73" r="3.4"/><circle cx="1573.42" cy="849.86" r="3.4"/><circle cx="1592.21" cy="742.81" r="3.4"/><circle cx="1611" cy="820.12" r="3.4"/><circle cx="1629.79" cy="861.75" r="3.4"/><circle cx="1648.58" cy="858.78" r="3.4"/><circle cx="1667.37" cy="861.75" r="3.4"/><circle cx="1704.95" cy="840.94" r="3.4"/><circle cx="1723.74" cy="837.97" r="3.4"/><circle cx="1742.53" cy="849.86" r="3.4"/><circle cx="1761.32" cy="855.81" r="3.4"/><circle cx="1780.11" cy="837.97" r="3.4"/><circle cx="1798.9" cy="858.78" r="3.4"/><circle cx="1817.69" cy="864.73" r="3.4"/><circle cx="1836.48" cy="864.73" r="3.4"/><circle cx="1855.27" cy="864.73" r="3.4"/><circle cx="1892.85" cy="846.89" r="3.4"/><circle cx="1911.64" cy="861.75" r="3.4"/><circle cx="1930.43" cy="864.73" r="3.4"/><circle cx="1986.8" cy="861.75" r="3.4"/></g>
</svg>
<svg class="abs" style="left:988px;top:223px" width="18" height="15" viewBox="988 223 18 15"><g stroke="#737885" stroke-width="1.05"><path d="M989.2,224.4H991.5M993.8,224.4H1003.4"/><path d="M989.2,227.93H991.5M993.8,227.93H1003.4"/><path d="M989.2,231.46H991.5M993.8,231.46H1003.4"/><path d="M989.2,234.99H991.5M993.8,234.99H1003.4"/></g></svg>
<div class="abs lgbtn" style="left:2002.1px;top:214.9px"></div>
<svg class="abs" style="left:2008px;top:223px" width="18" height="15" viewBox="2008 223 18 15"><g stroke="#737885" stroke-width="1.05"><path d="M2009.1,224.5H2011.4M2013.7,224.5H2023.3"/><path d="M2009.1,228.03H2011.4M2013.7,228.03H2023.3"/><path d="M2009.1,231.56H2011.4M2013.7,231.56H2023.3"/><path d="M2009.1,235.09H2011.4M2013.7,235.09H2023.3"/></g></svg>
<div class="abs lgbtn" style="left:10.6px;top:947.5px"></div>
<svg class="abs" style="left:16px;top:955px" width="18" height="15" viewBox="16 955 18 15"><g stroke="#737885" stroke-width="1.05"><path d="M17.3,956.4H19.6M21.9,956.4H31.5"/><path d="M17.3,959.93H19.6M21.9,959.93H31.5"/><path d="M17.3,963.46H19.6M21.9,963.46H31.5"/><path d="M17.3,966.99H19.6M21.9,966.99H31.5"/></g></svg>
<div class="abs lgbtn" style="left:2002.1px;top:619.6px"></div>
<svg class="abs" style="left:2008px;top:628px" width="18" height="15" viewBox="2008 628 18 15"><g stroke="#737885" stroke-width="1.05"><path d="M2009.1,629.2H2011.4M2013.7,629.2H2023.3"/><path d="M2009.1,632.73H2011.4M2013.7,632.73H2023.3"/><path d="M2009.1,636.26H2011.4M2013.7,636.26H2023.3"/><path d="M2009.1,639.79H2011.4M2013.7,639.79H2023.3"/></g></svg>
<svg class="abs" style="left:1033px;top:549px" width="13" height="13" viewBox="1033 549 13 13"><circle cx="1039.6" cy="555.7" r="4.7" fill="#6090c7"/></svg>
<span id="t18" class="t " style="left:1054.7px;top:545.6px;font-size:14.3px;line-height:20px;font-weight:400;color:#343741;letter-spacing:0.38px;-webkit-text-stroke:0.2px #343741;">Jenkins Immutable Workers</span>
<svg class="abs" style="left:820px;top:624px" width="13" height="13" viewBox="820 624 13 13"><circle cx="826.9" cy="630.4" r="4.7" fill="#70b09a"/></svg>
<span id="t19" class="t " style="left:842px;top:620.2px;font-size:14.3px;line-height:20px;font-weight:400;color:#343741;letter-spacing:0.39px;-webkit-text-stroke:0.2px #343741;">Jenkins Worker Age Max</span>
<svg class="abs" style="left:1033px;top:954px" width="13" height="13" viewBox="1033 954 13 13"><circle cx="1039.6" cy="960.3" r="4.7" fill="#70b09a"/></svg>
<span id="t20" class="t " style="left:1054.7px;top:950.1px;font-size:14.3px;line-height:20px;font-weight:400;color:#343741;letter-spacing:0.35px;-webkit-text-stroke:0.2px #343741;">Workers</span>
<div class="abs edgeR"></div><div class="abs edgeB"></div>
</body>
</html>
